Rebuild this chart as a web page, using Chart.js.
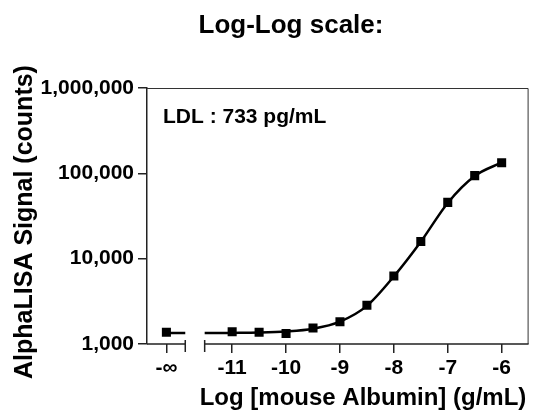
<!DOCTYPE html>
<html>
<head>
<meta charset="utf-8">
<script src="https://cdn.jsdelivr.net/npm/chart.js@4"></script>
<style>
  body { margin: 0; background: #fff; }
  #wrap { width: 535px; height: 410px; }
</style>
</head>
<body>
<div id="wrap"><canvas id="myChart" width="535" height="410"></canvas></div>
<script>
// log concentration of mouse Albumin (g/mL) and AlphaLISA counts
var logConc = [-11, -10.5, -10, -9.5, -9, -8.5, -8, -7.5, -7, -6.5, -6]
var signal = [1390, 1370, 1330, 1540, 1820, 2850, 6250, 15900, 45700, 94000, 133000]
var blankSignal = 1370

// fitted curve
var fitConc = [-11.51, -11, -10.5, -10, -9.5, -9, -8.5, -8, -7.5, -7, -6.5, -6]
var fitSignal = [1345, 1350, 1360, 1400, 1510, 1830, 2800, 6200, 15800, 45000, 93000, 134000]

var xTicks = [-11, -10, -9, -8, -7, -6]
var yTicks = [1000, 10000, 100000, 1000000]

var chartTitle = 'Log-Log scale:'
var xTitle = 'Log [mouse Albumin] (g/mL)'
var yTitle = 'AlphaLISA Signal (counts)'
var ldlText = 'LDL : 733 pg/mL'

// where "-inf" sits on the x axis and where the axis is broken
var blankPos = -12.22
var breakLeft = -11.87
var breakRight = -11.51

var fontFam = '"Liberation Sans", Arial, Helvetica, sans-serif'
var axisColor = '#222'

var pts = logConc.map((c, i) => ({ x: c, y: signal[i] }))
var fitPts = fitConc.map((c, i) => ({ x: c, y: fitSignal[i] }))

var textPlugin = {
    id: 'textPlugin',
    afterDraw(chart) {
        var ctx = chart.ctx
        var area = chart.chartArea
        var xs = chart.scales.x
        var ys = chart.scales.y
        ctx.save()
        // frame top + right
        ctx.strokeStyle = '#333'
        ctx.lineWidth = 1
        ctx.beginPath()
        ctx.moveTo(area.left, area.top + 0.5)
        ctx.lineTo(area.right - 0.5, area.top + 0.5)
        ctx.lineTo(area.right - 0.5, area.bottom)
        ctx.stroke()

        // broken x axis
        var yb = ys.getPixelForValue(1000)
        var pL = xs.getPixelForValue(breakLeft)
        var pR = xs.getPixelForValue(breakRight)
        ctx.strokeStyle = axisColor
        ctx.lineWidth = 1.5
        ctx.beginPath()
        ctx.moveTo(area.left, yb)
        ctx.lineTo(pL, yb)
        ctx.moveTo(pR, yb)
        ctx.lineTo(area.right, yb)
        ctx.moveTo(pL, yb - 4)
        ctx.lineTo(pL, yb + 8)
        ctx.moveTo(pR, yb - 4)
        ctx.lineTo(pR, yb + 8)
        ctx.stroke()

        ctx.fillStyle = '#000'
        ctx.textBaseline = 'alphabetic'
        ctx.font = 'bold 26px ' + fontFam
        ctx.textAlign = 'center'
        ctx.fillText(chartTitle, 291, 33)

        ctx.font = 'bold 24px ' + fontFam
        ctx.fillText(xTitle, 363, 405)

        ctx.save()
        ctx.translate(32, 222)
        ctx.rotate(-Math.PI / 2)
        ctx.font = 'bold 25px ' + fontFam
        ctx.fillText(yTitle, 0, 0)
        ctx.restore()

        ctx.textAlign = 'left'
        ctx.font = 'bold 21px ' + fontFam
        ctx.fillText(ldlText, 163, 123)
        ctx.restore()
    }
}

var ctx = document.getElementById('myChart').getContext('2d')
var myChart = new Chart(ctx, {
    type: 'line',
    data: {
        datasets: [
            {
                label: 'points',
                data: pts,
                showLine: false,
                pointStyle: 'rect',
                pointRadius: 6.4,
                backgroundColor: '#000',
                borderColor: '#000',
                borderWidth: 0,
                order: 0
            },
            {
                label: 'blank',
                data: [{ x: blankPos, y: blankSignal }],
                showLine: false,
                pointStyle: 'rect',
                pointRadius: 6.4,
                backgroundColor: '#000',
                borderColor: '#000',
                borderWidth: 0,
                order: 0
            },
            {
                label: 'fit',
                data: fitPts,
                borderColor: '#000',
                borderWidth: 2.5,
                pointRadius: 0,
                cubicInterpolationMode: 'monotone',
                fill: false,
                order: 1
            },
            {
                label: 'blank fit',
                data: [{ x: blankPos, y: 1345 }, { x: breakLeft, y: 1345 }],
                borderColor: '#000',
                borderWidth: 2.5,
                pointRadius: 0,
                fill: false,
                order: 1
            }
        ]
    },
    options: {
        responsive: false,
        animation: false,
        layout: { padding: { top: 88, right: 3, left: 0, bottom: 0 } },
        plugins: {
            legend: { display: false },
            tooltip: { enabled: false }
        },
        scales: {
            x: {
                type: 'linear',
                min: -12.58,
                max: -5.50,
                afterBuildTicks(scale) {
                    scale.ticks = [blankPos].concat(xTicks).map(v => ({ value: v }))
                },
                afterFit(scale) { scale.height = 66 },
                border: { display: false },
                grid: {
                    drawOnChartArea: false,
                    drawTicks: true,
                    tickLength: 9,
                    color: axisColor,
                    lineWidth: 1.5
                },
                ticks: {
                    color: '#000',
                    padding: 3,
                    maxRotation: 0,
                    autoSkip: false,
                    font: { family: fontFam, size: 21, weight: 'bold' },
                    callback: v => (v === blankPos ? '-∞' : v)
                }
            },
            y: {
                type: 'logarithmic',
                min: 1000,
                max: 1000000,
                afterBuildTicks(scale) {
                    scale.ticks = yTicks.map(v => ({ value: v }))
                },
                afterFit(scale) { scale.width = 147 },
                border: { display: true, color: axisColor, width: 1.5 },
                grid: {
                    drawOnChartArea: false,
                    drawTicks: true,
                    tickLength: 9,
                    color: axisColor,
                    lineWidth: 1.5
                },
                ticks: {
                    color: '#000',
                    padding: 4,
                    font: { family: fontFam, size: 21, weight: 'bold' },
                    callback: v => v.toLocaleString('en-US')
                }
            }
        }
    },
    plugins: [textPlugin]
})
</script>
</body>
</html>
